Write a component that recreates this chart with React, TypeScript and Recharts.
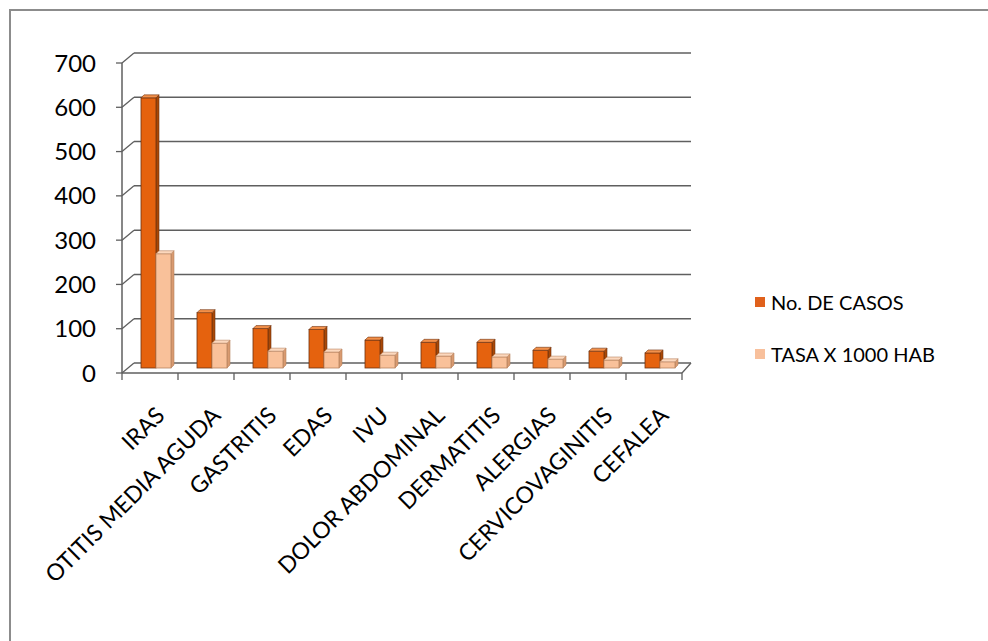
import React from 'react';
import { BarChart, Bar, XAxis, YAxis, CartesianGrid } from 'recharts';

const categories = [
  'IRAS',
  'OTITIS MEDIA AGUDA',
  'GASTRITIS',
  'EDAS',
  'IVU',
  'DOLOR ABDOMINAL',
  'DERMATITIS',
  'ALERGIAS',
  'CERVICOVAGINITIS',
  'CEFALEA',
];
const casos = [610, 125, 89, 87, 63, 58, 58, 40, 38, 34];
const tasa = [258, 56, 38, 36, 29, 27, 25, 20, 18, 14];
const yTicks = [0, 100, 200, 300, 400, 500, 600, 700];

const data = categories.map((name, i) => ({ name, casos: casos[i], tasa: tasa[i] }));

const FONT = 'Lato, "Open Sans", sans-serif';
const GRID = '#5f5f5f';
const DEPTH_X = 12;
const DEPTH_Y = 10;

const colors = {
  casos: { front: '#E5620E', top: '#F3904A', side: '#A94806', edge: '#6e3210' },
  tasa: { front: '#F9C19A', top: '#FCD8BE', side: '#D99A70', edge: '#b7835f' },
};

// fake 3d column: front face, top face, right side
const makeBar = (c: typeof colors.casos) => (props: any) => {
  const { x, y, width, height } = props;
  if (height == null || width == null) return null;
  const x0 = x + DEPTH_X / 2;
  const y0 = y - DEPTH_Y / 2;
  const d = 3;
  return (
    <g>
      <polygon
        points={`${x0 + width},${y0} ${x0 + width + d},${y0 - d} ${x0 + width + d},${y0 + height - d} ${x0 + width},${y0 + height}`}
        fill={c.side}
        stroke={c.edge}
        strokeWidth={0.6}
      />
      <rect x={x0} y={y0} width={width} height={height} fill={c.front} stroke={c.edge} strokeWidth={0.8} />
      <polygon
        points={`${x0},${y0} ${x0 + width},${y0} ${x0 + width + d},${y0 - d} ${x0 + d},${y0 - d}`}
        fill={c.top}
        stroke={c.edge}
        strokeWidth={0.6}
      />
    </g>
  );
};

const gridLine = (p: any) => {
  const { x1, y1, x2, key, index } = p;
  const bottom = p.y != null && p.height != null ? Math.abs(y1 - (p.y + p.height)) < 1 : index === 0;
  return (
    <g key={key}>
      <line x1={x1} y1={y1} x2={x1 + DEPTH_X} y2={y1 - DEPTH_Y} stroke={GRID} strokeWidth={1.3} />
      <line x1={x1 + DEPTH_X} y1={y1 - DEPTH_Y} x2={x2 + DEPTH_X - 3} y2={y1 - DEPTH_Y} stroke={GRID} strokeWidth={1.5} />
      {bottom && <line x1={x2} y1={y1} x2={x2 + DEPTH_X - 3} y2={y1 - DEPTH_Y} stroke={GRID} strokeWidth={1.3} />}
    </g>
  );
};

const BAND = 56;

const XTick = (props: any) => {
  const { x, y, payload, index } = props;
  const last = index === categories.length - 1;
  const tx = x + 16;
  const ty = y + 44;
  return (
    <g>
      <line x1={x - BAND / 2} y1={y} x2={x - BAND / 2} y2={y + 7} stroke={GRID} strokeWidth={1.3} />
      {last && <line x1={x + BAND / 2} y1={y} x2={x + BAND / 2} y2={y + 7} stroke={GRID} strokeWidth={1.3} />}
      <text
        x={tx}
        y={ty}
        transform={`rotate(-45, ${tx}, ${ty})`}
        textAnchor="end"
        fontSize={23}
        fontFamily={FONT}
        fill="#000"
      >
        {payload.value}
      </text>
    </g>
  );
};

const legendItems = [
  { label: 'No. DE CASOS', color: '#E0611C' },
  { label: 'TASA X 1000 HAB', color: '#F8C09C' },
];

export default function App() {
  return (
    <div style={{ position: 'absolute', left: 0, top: 0, width: 988, height: 641, background: '#fff', overflow: 'hidden' }}>
      <div
        style={{
          position: 'absolute',
          left: 9,
          top: 9,
          right: 0,
          bottom: 0,
          borderLeft: '2px solid #8c8c8c',
          borderTop: '2px solid #8c8c8c',
        }}
      />
      <div style={{ position: 'absolute', left: 0, top: 0 }}>
        <BarChart
          width={988}
          height={641}
          data={data}
          margin={{ top: 63, right: 306, bottom: 68, left: 62 }}
          barSize={15}
          barGap={0}
        >
          <CartesianGrid vertical={false} horizontal={gridLine} />
          <XAxis
            dataKey="name"
            interval={0}
            height={200}
            tickSize={0}
            tickMargin={0}
            tickLine={false}
            axisLine={{ stroke: GRID, strokeWidth: 1.5 }}
            tick={<XTick />}
          />
          <YAxis
            width={60}
            domain={[0, 700]}
            ticks={yTicks}
            interval={0}
            tickSize={6}
            tickMargin={20}
            axisLine={{ stroke: GRID, strokeWidth: 1.5 }}
            tickLine={{ stroke: GRID, strokeWidth: 1.3 }}
            tick={{ fontSize: 24, fontFamily: FONT, fill: '#000' }}
          />
          <Bar dataKey="casos" isAnimationActive={false} shape={makeBar(colors.casos)} />
          <Bar dataKey="tasa" isAnimationActive={false} shape={makeBar(colors.tasa)} />
        </BarChart>
      </div>
      <div style={{ position: 'absolute', left: 755, top: 289, fontFamily: FONT, fontSize: 20, color: '#000' }}>
        {legendItems.map((it) => (
          <div key={it.label} style={{ display: 'flex', alignItems: 'center', height: 26, marginBottom: 26 }}>
            <span style={{ display: 'inline-block', width: 10, height: 10, background: it.color, marginRight: 6 }} />
            <span>{it.label}</span>
          </div>
        ))}
      </div>
    </div>
  );
}
